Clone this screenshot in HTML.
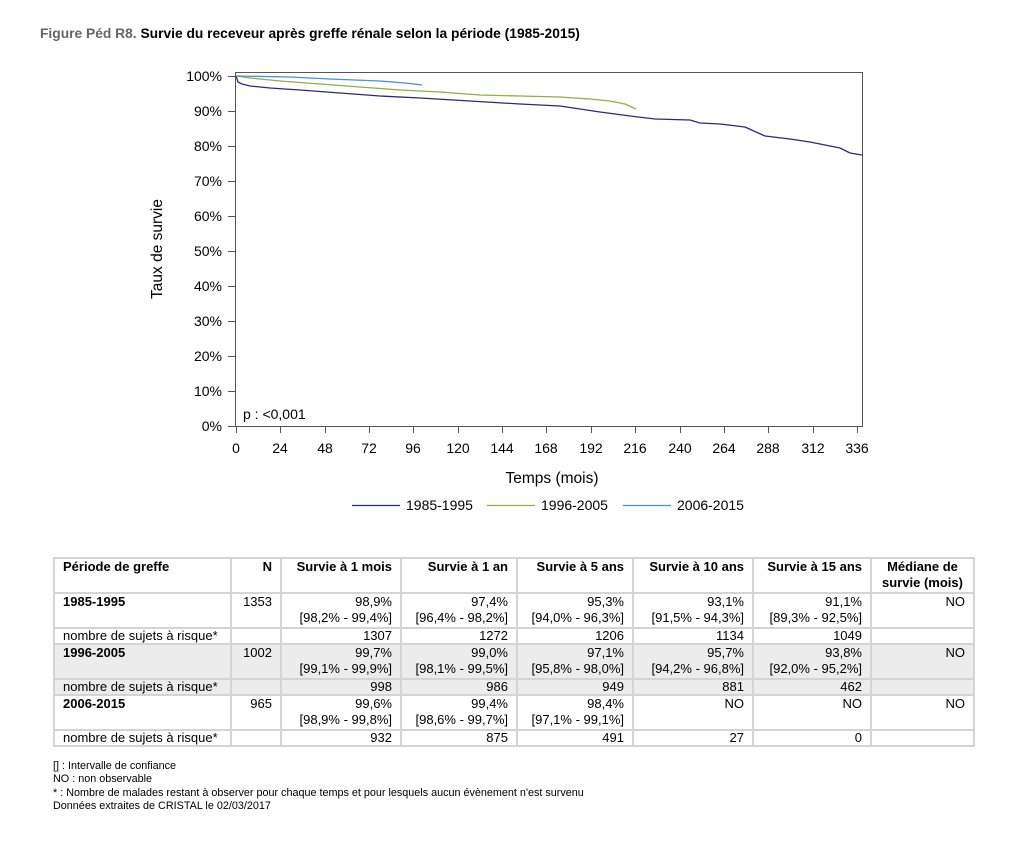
<!DOCTYPE html>
<html><head><meta charset="utf-8"><style>
body{margin:0;width:1020px;height:849px;background:#fff;font-family:"Liberation Sans",Arial,sans-serif;position:relative;overflow:hidden}
.t{position:absolute;left:40px;top:26px;font-size:13.8px;font-weight:bold;color:#000;white-space:nowrap}
.t span{color:#666}
svg{position:absolute;left:0;top:0}
table{position:absolute;left:53px;top:557px;border-collapse:collapse;font-size:13px;color:#000;table-layout:fixed;width:920px}
td{border:2px solid #d4d4d4;padding:0 8px 0 8px;vertical-align:top;text-align:right;line-height:16px;white-space:nowrap;overflow:hidden}
td.l{text-align:left}
tr.g td{background:#ececec}
tr.d td{height:33px}
tr.r td{height:14px;line-height:14px}
.h td{font-weight:bold;height:33px}
.h td.c{text-align:center}
.notes{position:absolute;left:53px;top:760px;font-size:10.8px;line-height:13.3px;color:#000;white-space:nowrap}
</style></head><body>
<div class="t"><span>Figure Péd R8.</span> Survie du receveur après greffe rénale selon la période (1985-2015)</div>
<svg width="1020" height="849" font-family="Liberation Sans,Arial,sans-serif">
<rect x="235.5" y="72.5" width="627" height="354" fill="none" stroke="#555" stroke-width="1"/>
<g font-size="14" text-anchor="end" fill="#000">
<text x="222" y="81">100%</text><text x="222" y="116">90%</text><text x="222" y="151">80%</text><text x="222" y="186">70%</text><text x="222" y="221">60%</text><text x="222" y="256">50%</text><text x="222" y="291">40%</text><text x="222" y="326">30%</text><text x="222" y="361">20%</text><text x="222" y="396">10%</text><text x="222" y="431">0%</text>
</g>
<g stroke="#555">
<line x1="228" x2="235" y1="76.5" y2="76.5"/><line x1="228" x2="235" y1="111.5" y2="111.5"/><line x1="228" x2="235" y1="146.5" y2="146.5"/><line x1="228" x2="235" y1="181.5" y2="181.5"/><line x1="228" x2="235" y1="216.5" y2="216.5"/><line x1="228" x2="235" y1="251.5" y2="251.5"/><line x1="228" x2="235" y1="286.5" y2="286.5"/><line x1="228" x2="235" y1="321.5" y2="321.5"/><line x1="228" x2="235" y1="356.5" y2="356.5"/><line x1="228" x2="235" y1="391.5" y2="391.5"/><line x1="228" x2="235" y1="426.5" y2="426.5"/>
<line x1="236.5" x2="236.5" y1="427" y2="433"/><line x1="280.5" x2="280.5" y1="427" y2="433"/><line x1="325.5" x2="325.5" y1="427" y2="433"/><line x1="369.5" x2="369.5" y1="427" y2="433"/><line x1="413.5" x2="413.5" y1="427" y2="433"/><line x1="458.5" x2="458.5" y1="427" y2="433"/><line x1="502.5" x2="502.5" y1="427" y2="433"/><line x1="546.5" x2="546.5" y1="427" y2="433"/><line x1="591.5" x2="591.5" y1="427" y2="433"/><line x1="635.5" x2="635.5" y1="427" y2="433"/><line x1="680.5" x2="680.5" y1="427" y2="433"/><line x1="724.5" x2="724.5" y1="427" y2="433"/><line x1="768.5" x2="768.5" y1="427" y2="433"/><line x1="813.5" x2="813.5" y1="427" y2="433"/><line x1="857.5" x2="857.5" y1="427" y2="433"/>
</g>
<g font-size="14" text-anchor="middle">
<text x="236" y="453">0</text><text x="280" y="453">24</text><text x="325" y="453">48</text><text x="369" y="453">72</text><text x="413" y="453">96</text><text x="458" y="453">120</text><text x="502" y="453">144</text><text x="546" y="453">168</text><text x="591" y="453">192</text><text x="635" y="453">216</text><text x="680" y="453">240</text><text x="724" y="453">264</text><text x="768" y="453">288</text><text x="813" y="453">312</text><text x="857" y="453">336</text>
<text x="552" y="483" font-size="15.5">Temps (mois)</text>
<text transform="translate(162,249) rotate(-90)" font-size="15.5">Taux de survie</text>
</g>
<text x="243" y="419" font-size="14">p : &lt;0,001</text>
<polyline fill="none" stroke="#2e2a72" stroke-width="1.3" points="236,76 238,82 242,84 250,86 270,88 300,90 340,93 380,96 420,98 470,101 520,104 560,106 600,112 630,116 655,119 690,120 700,123 720,124 745,127 765,136 790,139 810,142 830,146 840,148 850,153 862,155"/>
<polyline fill="none" stroke="#8cb04a" stroke-width="1.3" points="236,76 250,78 280,81 320,84 360,87 400,90 440,92 480,95 520,96 560,97 590,99 610,101 625,104 636,109"/>
<polyline fill="none" stroke="#4a8fd8" stroke-width="1.3" points="236,76 290,77 330,79 380,81 405,83 422,85"/>
<line x1="352" x2="400" y1="505.5" y2="505.5" stroke="#2e2a72" stroke-width="1.3"/>
<line x1="487" x2="535" y1="505.5" y2="505.5" stroke="#8cb04a" stroke-width="1.3"/>
<line x1="623" x2="671" y1="505.5" y2="505.5" stroke="#4a8fd8" stroke-width="1.3"/>
<g font-size="14"><text x="406" y="510">1985-1995</text><text x="541" y="510">1996-2005</text><text x="677" y="510">2006-2015</text></g>
</svg>
<table>
<colgroup><col style="width:177px"><col style="width:50px"><col style="width:120px"><col style="width:116px"><col style="width:116px"><col style="width:120px"><col style="width:118px"><col style="width:103px"></colgroup>
<tr class="h"><td class="l">Période de greffe</td><td>N</td><td>Survie à 1 mois</td><td>Survie à 1 an</td><td>Survie à 5 ans</td><td>Survie à 10 ans</td><td>Survie à 15 ans</td><td class="c">Médiane de<br>survie (mois)</td></tr>
<tr class="d"><td class="l"><b>1985-1995</b></td><td>1353</td><td>98,9%<br>[98,2% - 99,4%]</td><td>97,4%<br>[96,4% - 98,2%]</td><td>95,3%<br>[94,0% - 96,3%]</td><td>93,1%<br>[91,5% - 94,3%]</td><td>91,1%<br>[89,3% - 92,5%]</td><td>NO</td></tr>
<tr class="r"><td class="l">nombre de sujets à risque*</td><td></td><td>1307</td><td>1272</td><td>1206</td><td>1134</td><td>1049</td><td></td></tr>
<tr class="g d"><td class="l"><b>1996-2005</b></td><td>1002</td><td>99,7%<br>[99,1% - 99,9%]</td><td>99,0%<br>[98,1% - 99,5%]</td><td>97,1%<br>[95,8% - 98,0%]</td><td>95,7%<br>[94,2% - 96,8%]</td><td>93,8%<br>[92,0% - 95,2%]</td><td>NO</td></tr>
<tr class="g r"><td class="l">nombre de sujets à risque*</td><td></td><td>998</td><td>986</td><td>949</td><td>881</td><td>462</td><td></td></tr>
<tr class="d"><td class="l"><b>2006-2015</b></td><td>965</td><td>99,6%<br>[98,9% - 99,8%]</td><td>99,4%<br>[98,6% - 99,7%]</td><td>98,4%<br>[97,1% - 99,1%]</td><td>NO</td><td>NO</td><td>NO</td></tr>
<tr class="r"><td class="l">nombre de sujets à risque*</td><td></td><td>932</td><td>875</td><td>491</td><td>27</td><td>0</td><td></td></tr>
</table>
<div class="notes">[] : Intervalle de confiance<br>NO : non observable<br>* : Nombre de malades restant à observer pour chaque temps et pour lesquels aucun évènement n'est survenu<br>Données extraites de CRISTAL le 02/03/2017</div>
</body></html>
